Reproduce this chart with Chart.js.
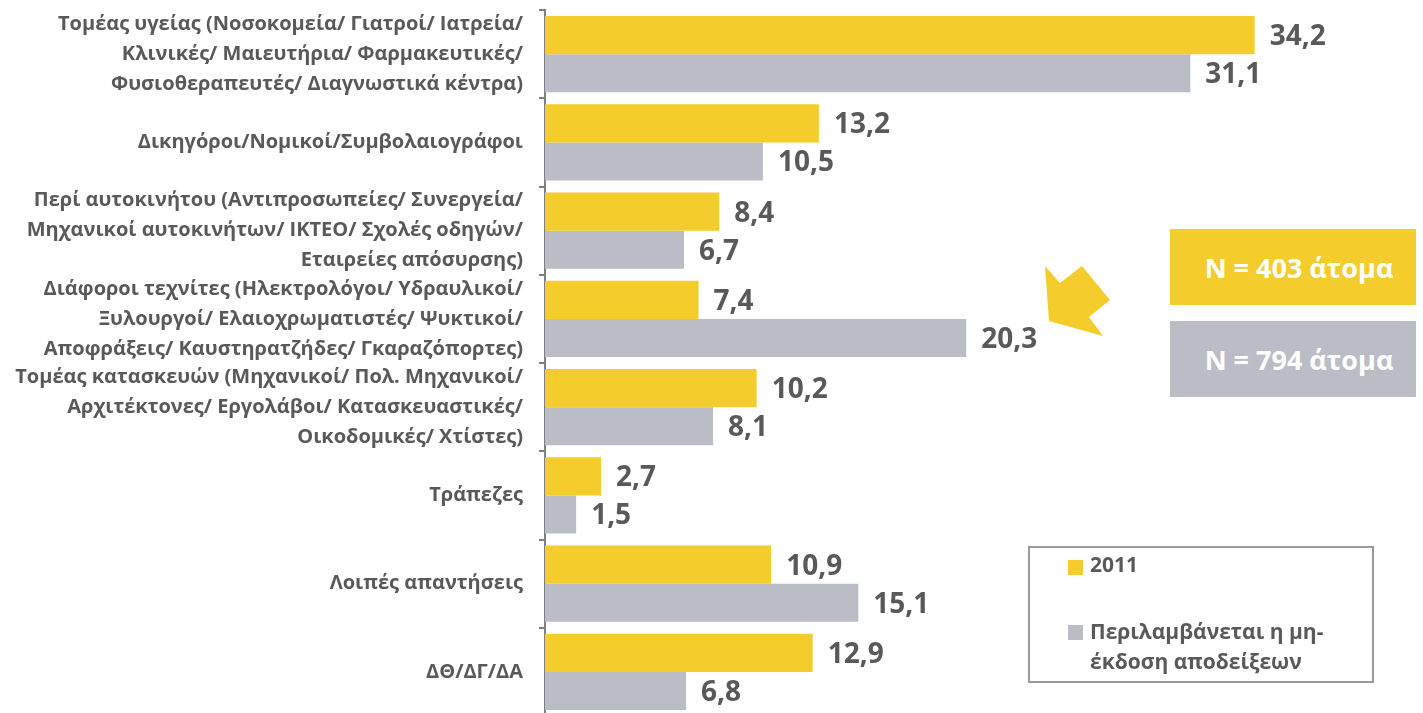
<!DOCTYPE html>
<html>
<head>
<meta charset="utf-8">
<script src="https://cdn.jsdelivr.net/npm/chart.js@4.4.1/dist/chart.umd.min.js"></script>
<style>
  html, body { margin: 0; padding: 0; background: #fff; overflow: hidden; }
  #wrap { position: relative; width: 1423px; height: 716px; }
  .nbox { position: absolute; left: 1170px; width: 246px; height: 76px; color: #fff;
          font: bold 27px 'Open Sans', sans-serif; display: flex; align-items: center; justify-content: center; padding-left: 12px; box-sizing: border-box; }
  #legend { position: absolute; left: 1028px; top: 546px; width: 346px; height: 137px; border: 2px solid #9a9a9a; box-sizing: border-box;
            font: bold 21px 'Open Sans', sans-serif; color: #595959; }
  .li { position: absolute; left: 38px; }
  .sw { position: absolute; left: 0; width: 15px; height: 15px; }
</style>
</head>
<body>
<div id="wrap">
  <canvas id="chart"></canvas>
  <svg style="position:absolute;left:0;top:0" width="1423" height="716">
    <polygon points="1045,266 1060,283 1082,266 1110,300 1089,317 1103,336 1049,321" fill="#F4CD2D"/>
  </svg>
  <div class="nbox" style="top:229px;background:#F4CD2D">N = 403 άτομα</div>
  <div class="nbox" style="top:321px;background:#BABDC5">N = 794 άτομα</div>
  <div id="legend">
    <div class="li" style="top:2px"><span class="sw" style="top:10px;background:#F4CD2D"></span><span style="padding-left:22px">2011</span></div>
    <div class="li" style="top:68px;line-height:30px"><span class="sw" style="top:9px;background:#BABDC5"></span><div style="padding-left:22px">Περιλαμβάνεται η μη-<br>έκδοση αποδείξεων</div></div>
  </div>
</div>
<script>
const categories = [
  ['Τομέας υγείας (Νοσοκομεία/ Γιατροί/ Ιατρεία/', 'Κλινικές/ Μαιευτήρια/ Φαρμακευτικές/', 'Φυσιοθεραπευτές/ Διαγνωστικά κέντρα)'],
  'Δικηγόροι/Νομικοί/Συμβολαιογράφοι',
  ['Περί αυτοκινήτου (Αντιπροσωπείες/ Συνεργεία/', 'Μηχανικοί αυτοκινήτων/ ΙΚΤΕΟ/ Σχολές οδηγών/', 'Εταιρείες απόσυρσης)'],
  ['Διάφοροι τεχνίτες (Ηλεκτρολόγοι/ Υδραυλικοί/', 'Ξυλουργοί/ Ελαιοχρωματιστές/ Ψυκτικοί/', 'Αποφράξεις/ Καυστηρατζήδες/ Γκαραζόπορτες)'],
  ['Τομέας κατασκευών (Μηχανικοί/ Πολ. Μηχανικοί/', 'Αρχιτέκτονες/ Εργολάβοι/ Κατασκευαστικές/', 'Οικοδομικές/ Χτίστες)'],
  'Τράπεζες',
  'Λοιπές απαντήσεις',
  'ΔΘ/ΔΓ/ΔΑ'
];
const values2011 = [34.2, 13.2, 8.4, 7.4, 10.2, 2.7, 10.9, 12.9];
const valuesIncl = [31.1, 10.5, 6.7, 20.3, 8.1, 1.5, 15.1, 6.8];
const seriesNames = ['2011', 'Περιλαμβάνεται η μη-έκδοση αποδείξεων'];

const YELLOW = '#F4CD2D';
const GREY = '#BABDC5';
const TEXT = '#595959';

const valueLabels = {
  id: 'valueLabels',
  afterDatasetsDraw(chart) {
    const {ctx} = chart;
    ctx.save();
    ctx.font = "bold 28px 'Open Sans', sans-serif";
    ctx.fillStyle = TEXT;
    ctx.textBaseline = 'middle';
    ctx.textAlign = 'left';
    chart.data.datasets.forEach((ds, i) => {
      chart.getDatasetMeta(i).data.forEach((el, j) => {
        ctx.fillText(ds.data[j].toFixed(1).replace('.', ','), el.x + 15, el.y + 2);
      });
    });
    ctx.restore();
  }
};

new Chart(document.getElementById('chart'), {
  type: 'bar',
  data: {
    labels: categories,
    datasets: [
      { label: seriesNames[0], data: values2011, backgroundColor: YELLOW },
      { label: seriesNames[1], data: valuesIncl, backgroundColor: GREY }
    ]
  },
  plugins: [valueLabels],
  options: {
    indexAxis: 'y',
    responsive: true,
    maintainAspectRatio: false,
    animation: false,
    devicePixelRatio: 1,
    categoryPercentage: 0.865,
    barPercentage: 1,
    layout: { padding: { top: 10, right: 48, left: 0, bottom: 0 } },
    scales: {
      x: { display: false, min: 0, max: 40 },
      y: {
        afterFit: (scale) => { scale.width = 545; scale.paddingTop = 0; scale.paddingBottom = 0; },
        grid: { offset: true, drawOnChartArea: false, tickLength: 6, color: '#808080', lineWidth: 2 },
        border: { color: '#808080', width: 2 },
        ticks: { autoSkip: false, color: TEXT, padding: 16, font: { family: "'Open Sans', sans-serif", size: 20, weight: 'bold', lineHeight: 1.5 } }
      }
    },
    plugins: { legend: { display: false }, tooltip: { enabled: false } }
  }
});
</script>
</body>
</html>
